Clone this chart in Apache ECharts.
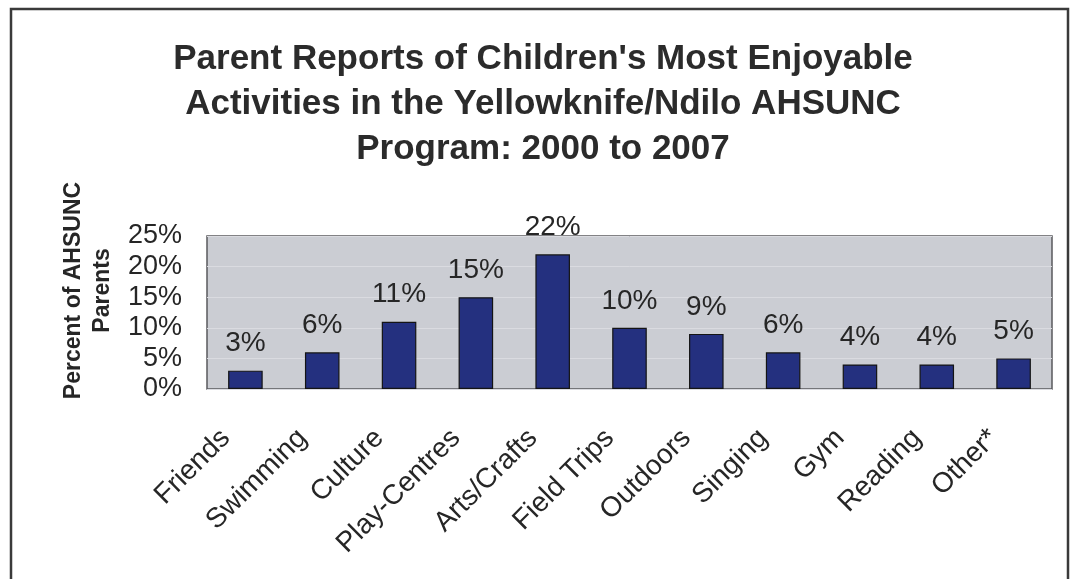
<!DOCTYPE html>
<html>
<head>
<meta charset="utf-8">
<script src="https://cdn.jsdelivr.net/npm/echarts@6/dist/echarts.min.js"></script>
<style>
  html, body { margin: 0; padding: 0; background: #ffffff; }
  #chart { width: 1075px; height: 579px; }
</style>
</head>
<body>
<div id="chart"></div>
<script>
// Activities named by parents, 2000-2007
const categories = ['Friends', 'Swimming', 'Culture', 'Play-Centres', 'Arts/Crafts',
  'Field Trips', 'Outdoors', 'Singing', 'Gym', 'Reading', 'Other*'];
// Percent of parents naming each activity
const percentages = [3, 6, 11, 15, 22, 10, 9, 6, 4, 4, 5];
// Y-axis range and step (percent)
const yMin = 0;
const yMax = 25;
const yStep = 5;

const titleText = "Parent Reports of Children's Most Enjoyable\nActivities in the Yellowknife/Ndilo AHSUNC\nProgram: 2000 to 2007";
const yAxisName = 'Percent of AHSUNC\nParents';

const FONT = '"Liberation Sans", Arial, sans-serif';

const chart = echarts.init(document.getElementById('chart'), null, { renderer: 'canvas' });

chart.setOption({
  backgroundColor: '#ffffff',
  animation: false,
  graphic: [{
    type: 'rect',
    shape: { x: 11, y: 9, width: 1057, height: 600 },
    style: { fill: 'none', stroke: '#3a3a3a', lineWidth: 2.5 },
    silent: true
  }],
  title: {
    text: titleText,
    left: 538,
    textAlign: 'center',
    top: 32,
    textStyle: {
      fontFamily: FONT,
      fontSize: 35,
      fontWeight: 'bold',
      color: '#2b2b2b',
      lineHeight: 45
    }
  },
  grid: {
    left: 207,
    right: 23,
    top: 236,
    bottom: 190,
    show: true,
    backgroundColor: '#cbcdd3',
    borderColor: '#5a5a5e',
    borderWidth: 1.5,
    containLabel: false
  },
  xAxis: {
    type: 'category',
    data: categories,
    axisLine: { show: false },
    axisTick: { show: false },
    axisLabel: {
      interval: 0,
      rotate: 45,
      margin: 25,
      padding: [0, 28, 0, 0],
      fontFamily: FONT,
      fontSize: 28,
      color: '#262626'
    }
  },
  yAxis: {
    type: 'value',
    min: yMin,
    max: yMax,
    interval: yStep,
    name: yAxisName,
    nameLocation: 'middle',
    nameGap: 90,
    nameRotate: 90,
    nameTextStyle: {
      fontFamily: FONT,
      fontSize: 23,
      fontWeight: 'bold',
      color: '#262626',
      lineHeight: 29,
      padding: [0, 0, 0, 44]
    },
    axisLine: { show: false },
    axisTick: { show: false },
    axisLabel: {
      margin: 25,
      fontFamily: FONT,
      fontSize: 27,
      color: '#262626',
      formatter: function (v) { return v + '%'; }
    },
    splitLine: {
      show: true,
      lineStyle: { color: '#dadbe0', width: 1 }
    }
  },
  series: [{
    type: 'bar',
    data: percentages,
    barWidth: '45%',
    itemStyle: {
      color: '#24307f',
      borderColor: '#141414',
      borderWidth: 1.2
    },
    label: {
      show: true,
      position: 'top',
      distance: 13,
      fontFamily: FONT,
      fontSize: 28,
      color: '#262626',
      formatter: function (p) { return p.value + '%'; }
    }
  }]
});
</script>
</body>
</html>
